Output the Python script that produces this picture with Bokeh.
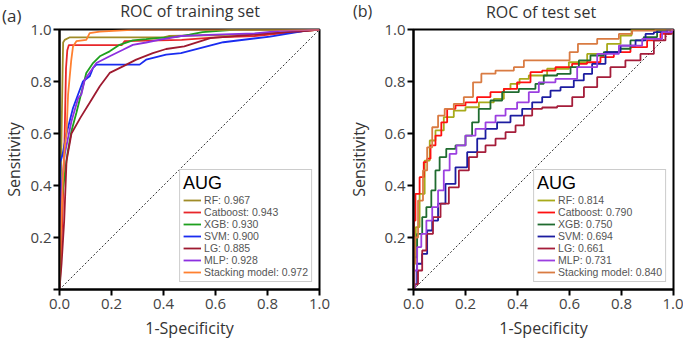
from bokeh.plotting import figure
from bokeh.layouts import row, column
from bokeh.models import Range1d, FixedTicker, Legend, LegendItem, Div, PrintfTickFormatter
from bokeh.embed import file_html
from bokeh.resources import INLINE

FONT = "Open Sans"
LEG_FONT = "Liberation Sans"

models = ["RF", "Catboost", "XGB", "SVM", "LG", "MLP", "Stacking model"]
train_auc = ["0.967", "0.943", "0.930", "0.900", "0.885", "0.928", "0.972"]
test_auc = ["0.814", "0.790", "0.750", "0.694", "0.661", "0.731", "0.840"]
train_colors = ["#a08c28", "#e8262a", "#1ea01e", "#1a2cf0", "#9e1a30", "#8c30e0", "#ff8030"]
test_colors = ["#a8aa1a", "#ff1010", "#1f6b2f", "#1c1ca0", "#a51d3a", "#9b3fe0", "#d97b42"]
ticks = [0.0, 0.2, 0.4, 0.6, 0.8, 1.0]
diag = [0.0, 1.0]

# ---- training set ROC points ----
tr_rf_fpr = [0, 0.004, 0.008, 0.012, 0.014, 0.02, 0.04, 0.4, 0.42, 0.7, 0.8, 0.95, 1.0]
tr_rf_tpr = [0, 0.3, 0.6, 0.85, 0.95, 0.96, 0.97, 0.97, 0.975, 0.98, 0.985, 0.995, 1.0]
tr_cat_fpr = [0, 0.005, 0.012, 0.02, 0.025, 0.03, 0.036, 0.05, 0.24, 0.25, 0.47, 0.6, 0.75, 0.9, 1.0]
tr_cat_tpr = [0, 0.1, 0.3, 0.6, 0.85, 0.92, 0.94, 0.94, 0.94, 0.955, 0.96, 0.97, 0.975, 0.99, 1.0]
tr_xgb_fpr = [0, 0.001, 0.01, 0.02, 0.03, 0.046, 0.065, 0.084, 0.103, 0.129, 0.155, 0.193, 0.231,
              0.282, 0.333, 0.372, 0.45, 0.5, 0.55, 0.68, 1.0]
tr_xgb_tpr = [0, 0.26, 0.36, 0.44, 0.52, 0.61, 0.68, 0.756, 0.833, 0.871, 0.897, 0.916, 0.941,
              0.958, 0.963, 0.967, 0.972, 0.98, 0.99, 1.0, 1.0]
tr_svm_fpr = [0, 0.0, 0.003, 0.012, 0.027, 0.052, 0.09, 0.116, 0.129, 0.142, 0.308, 0.333, 0.41,
              0.467, 0.63, 0.81, 0.966, 1.0]
tr_svm_tpr = [0, 0.24, 0.49, 0.52, 0.6, 0.698, 0.8, 0.82, 0.852, 0.865, 0.865, 0.884, 0.903,
              0.909, 0.951, 0.973, 0.999, 1.0]
tr_lg_fpr = [0, 0.008, 0.018, 0.027, 0.046, 0.08, 0.116, 0.155, 0.193, 0.244, 0.295, 0.359, 0.41,
             0.48, 0.58, 0.82, 0.95, 1.0]
tr_lg_tpr = [0, 0.1, 0.264, 0.494, 0.6, 0.66, 0.718, 0.782, 0.833, 0.858, 0.884, 0.909, 0.925,
             0.935, 0.967, 0.986, 0.995, 1.0]
tr_mlp_fpr = [0, 0.003, 0.008, 0.02, 0.046, 0.072, 0.084, 0.097, 0.142, 0.193, 0.244, 0.282, 0.333,
              0.383, 0.467, 0.6, 0.75, 0.85, 1.0]
tr_mlp_tpr = [0, 0.2, 0.39, 0.52, 0.647, 0.737, 0.75, 0.807, 0.871, 0.897, 0.922, 0.941, 0.95,
              0.96, 0.975, 0.98, 0.985, 0.995, 1.0]
tr_stk_fpr = [0, 0.005, 0.012, 0.02, 0.027, 0.033, 0.045, 0.052, 0.065, 0.103, 0.116, 0.155, 0.295, 1.0]
tr_stk_tpr = [0, 0.2, 0.4, 0.55, 0.6, 0.75, 0.88, 0.935, 0.955, 0.96, 0.986, 0.992, 1.0, 1.0]

# ---- test set ROC points ----
te_rf_fpr = [0, 0.004, 0.014, 0.033, 0.053, 0.072, 0.097, 0.136, 0.174, 0.226, 0.277, 0.341, 0.354,
             0.392, 0.424, 0.463, 0.565, 0.63, 0.706, 0.783, 0.81, 0.867, 1.0]
te_rf_tpr = [0, 0.1, 0.24, 0.368, 0.496, 0.573, 0.612, 0.663, 0.688, 0.701, 0.72, 0.733, 0.772,
             0.791, 0.81, 0.823, 0.849, 0.874, 0.906, 0.945, 0.977, 1.0, 1.0]
te_cat_fpr = [0, 0.001, 0.001, 0.014, 0.033, 0.046, 0.059, 0.072, 0.097, 0.117, 0.142, 0.181, 0.219,
              0.27, 0.322, 0.373, 0.424, 0.476, 0.514, 0.578, 0.642, 0.693, 0.745, 0.796, 0.873,
              0.924, 0.976, 1.0]
te_cat_tpr = [0, 0.163, 0.265, 0.368, 0.432, 0.49, 0.503, 0.554, 0.592, 0.643, 0.695, 0.708, 0.72,
              0.74, 0.759, 0.772, 0.797, 0.836, 0.842, 0.855, 0.868, 0.874, 0.894, 0.913, 0.932,
              0.958, 0.983, 1.0]
te_xgb_fpr = [0, 0.0, 0.001, 0.027, 0.04, 0.059, 0.078, 0.091, 0.11, 0.142, 0.181, 0.219, 0.232,
              0.27, 0.322, 0.36, 0.45, 0.488, 0.514, 0.591, 0.617, 0.655, 0.706, 0.758, 0.822,
              0.847, 0.924, 0.95, 1.0]
te_xgb_tpr = [0, 0.02, 0.124, 0.214, 0.278, 0.317, 0.381, 0.458, 0.509, 0.541, 0.554, 0.592, 0.643,
              0.695, 0.727, 0.759, 0.772, 0.791, 0.823, 0.829, 0.855, 0.881, 0.9, 0.913, 0.926,
              0.958, 0.971, 0.996, 1.0]
te_svm_fpr = [0, 0.008, 0.02, 0.046, 0.059, 0.085, 0.104, 0.142, 0.181, 0.232, 0.258, 0.296, 0.347,
              0.399, 0.437, 0.476, 0.514, 0.54, 0.591, 0.642, 0.668, 0.706, 0.771, 0.822, 0.886,
              0.899, 0.95, 1.0]
te_svm_tpr = [0, 0.02, 0.099, 0.137, 0.227, 0.265, 0.33, 0.406, 0.47, 0.528, 0.58, 0.618, 0.643,
              0.669, 0.695, 0.72, 0.74, 0.765, 0.778, 0.804, 0.829, 0.868, 0.913, 0.938, 0.958,
              0.983, 0.99, 1.0]
te_lg_fpr = [0, 0.008, 0.027, 0.04, 0.059, 0.091, 0.117, 0.155, 0.194, 0.232, 0.258, 0.296, 0.335,
             0.373, 0.412, 0.437, 0.476, 0.514, 0.591, 0.63, 0.681, 0.732, 0.783, 0.847, 0.899,
             0.95, 0.988, 1.0]
te_lg_tpr = [0, 0.02, 0.073, 0.15, 0.214, 0.278, 0.33, 0.393, 0.458, 0.509, 0.528, 0.554, 0.58,
             0.605, 0.631, 0.669, 0.695, 0.70, 0.705, 0.74, 0.778, 0.817, 0.855, 0.881, 0.906,
             0.958, 0.983, 1.0]
te_mlp_fpr = [0, 0.008, 0.02, 0.04, 0.059, 0.085, 0.104, 0.129, 0.149, 0.181, 0.219, 0.258, 0.296,
              0.335, 0.373, 0.424, 0.463, 0.501, 0.591, 0.668, 0.745, 0.835, 0.924, 0.988, 1.0]
te_mlp_tpr = [0, 0.073, 0.163, 0.214, 0.265, 0.317, 0.381, 0.458, 0.522, 0.554, 0.592, 0.618, 0.643,
              0.669, 0.695, 0.72, 0.759, 0.797, 0.81, 0.855, 0.906, 0.938, 0.964, 0.99, 1.0]
te_stk_fpr = [0, 0.003, 0.008, 0.027, 0.046, 0.059, 0.085, 0.104, 0.136, 0.174, 0.213, 0.245, 0.277,
              0.354, 0.418, 0.431, 0.591, 0.61, 0.655, 0.758, 0.822, 0.86, 1.0]
te_stk_tpr = [0, 0.1, 0.2, 0.342, 0.458, 0.547, 0.624, 0.669, 0.695, 0.714, 0.74, 0.797, 0.83,
              0.842, 0.855, 0.881, 0.881, 0.913, 0.945, 0.964, 0.983, 0.996, 1.0]

train_curves = [(tr_rf_fpr, tr_rf_tpr), (tr_cat_fpr, tr_cat_tpr), (tr_xgb_fpr, tr_xgb_tpr),
                (tr_svm_fpr, tr_svm_tpr), (tr_lg_fpr, tr_lg_tpr), (tr_mlp_fpr, tr_mlp_tpr),
                (tr_stk_fpr, tr_stk_tpr)]
test_curves = [(te_rf_fpr, te_rf_tpr), (te_cat_fpr, te_cat_tpr), (te_xgb_fpr, te_xgb_tpr),
               (te_svm_fpr, te_svm_tpr), (te_lg_fpr, te_lg_tpr), (te_mlp_fpr, te_mlp_tpr),
               (te_stk_fpr, te_stk_tpr)]

HEADER_H = 16
FIG_H = 325


def make_panel(curves, colors, aucs, width, left, right, top, frame_px, ylab_standoff, stepped):
    p = figure(width=width, height=FIG_H, x_range=Range1d(0, 1), y_range=Range1d(0, 1),
               output_backend="svg", toolbar_location=None,
               min_border_left=left, min_border_right=right,
               min_border_top=top, min_border_bottom=FIG_H - top - frame_px)
    p.xgrid.visible = False
    p.ygrid.visible = False
    p.outline_line_color = "black"
    p.outline_line_width = 2
    p.border_fill_alpha = 0.0
    for ax in (p.xaxis[0], p.yaxis[0]):
        ax.ticker = FixedTicker(ticks=ticks)
        ax.formatter = PrintfTickFormatter(format="%.1f")
        ax.minor_tick_in = 0
        ax.minor_tick_out = 0
        ax.major_tick_in = 0
        ax.major_tick_out = 6
        ax.major_tick_line_width = 2
        ax.axis_line_width = 2
        ax.major_label_text_font = FONT
        ax.major_label_text_font_size = "15px"
        ax.major_label_text_color = "#444444"
        ax.axis_label_text_font = FONT
        ax.axis_label_text_font_size = "16px"
        ax.axis_label_text_font_style = "normal"
        ax.axis_label_text_color = "#333333"
    p.xaxis.major_label_standoff = 3
    p.yaxis.major_label_standoff = 2
    p.yaxis.major_label_overrides = {0: ""}
    p.xaxis.axis_label = "1-Specificity"
    p.xaxis.axis_label_standoff = 5
    p.yaxis.axis_label = "Sensitivity"
    p.yaxis.axis_label_standoff = ylab_standoff

    p.line(diag, diag, line_color="#333333", line_width=1, line_dash="2 2")

    items = []
    for (fx, fy), c, name, auc in zip(curves, colors, models, aucs):
        if stepped:
            r = p.step(fx, fy, line_color=c, line_width=1.8, mode="center")
        else:
            r = p.line(fx, fy, line_color=c, line_width=1.8)
        items.append(LegendItem(label=f"{name}: {auc}", renderers=[r]))

    legend = Legend(items=items, location="bottom_right", margin=7,
                    title="AUG", title_text_font=LEG_FONT, title_text_font_size="18px",
                    title_text_font_style="normal", title_text_color="black", title_standoff=0,
                    label_text_font=LEG_FONT, label_text_font_size="10.5px",
                    label_text_color="#555555",
                    glyph_width=18, glyph_height=12, label_height=12, label_standoff=3,
                    spacing=0, padding=3, border_line_color="#999999", border_line_width=1,
                    background_fill_alpha=1.0)
    p.add_layout(legend)
    return p


p1 = make_panel(train_curves, train_colors, train_auc, 340, 58, 21, 28 - HEADER_H, 261, 2, False)
p2 = make_panel(test_curves, test_colors, test_auc, 343, 73, 10, 29 - HEADER_H, 260, 11, True)

span = "position:absolute;white-space:nowrap;font-family:'Open Sans';color:#333333;"
header_html = (
    '<div style="position:relative;width:683px;height:%dpx;overflow:visible;">' % HEADER_H
    + '<span style="%sleft:2px;top:4px;font-size:17px;">(a)</span>' % span
    + '<span style="%sleft:190px;top:0px;font-size:16px;transform:translateX(-50%%);">ROC of training set</span>' % span
    + '<span style="%sleft:353px;top:0px;font-size:16px;">(b)</span>' % span
    + '<span style="%sleft:541px;top:1px;font-size:16px;transform:translateX(-50%%);">ROC of test set</span>' % span
    + '</div>'
)
header = Div(text=header_html, width=683, height=HEADER_H, margin=0,
             styles={"overflow": "visible"})

layout = column(header, row(p1, p2))
open("out.html", "w").write(file_html(layout, INLINE))
